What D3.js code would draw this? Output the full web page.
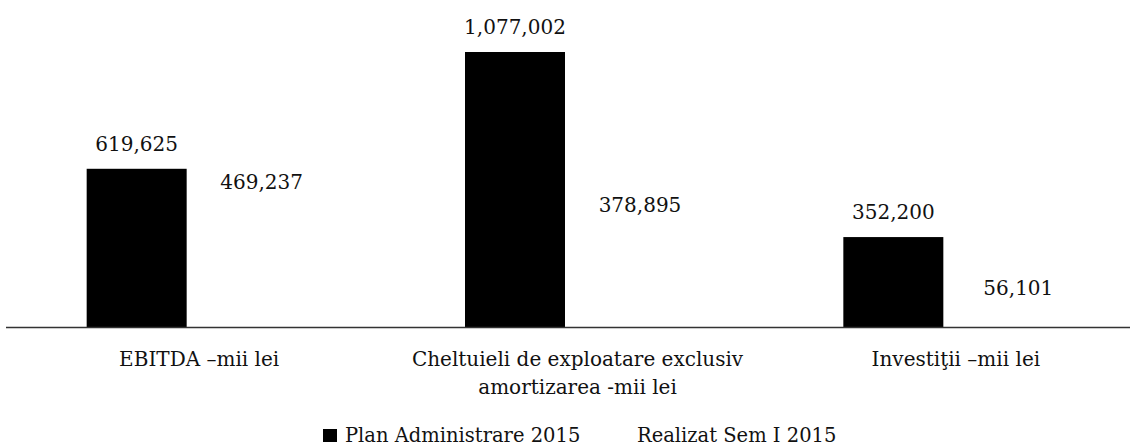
<!DOCTYPE html>
<html>
<head>
<meta charset="utf-8">
<script src="https://cdn.jsdelivr.net/npm/d3@7"></script>
<style>
  html, body { margin: 0; padding: 0; background: #fff; }
  svg { display: block; }
  text { font-family: "DejaVu Serif", "Liberation Serif", serif; fill: #111; }
</style>
</head>
<body>
<svg id="chart" width="1135" height="447"></svg>
<script>
const categories = [
  ["EBITDA \u2013mii lei"],
  ["Cheltuieli de exploatare exclusiv", "amortizarea -mii lei"],
  ["Investi\u0163ii \u2013mii lei"]
];
const categoryKeys = ["EBITDA", "Cheltuieli", "Investitii"];
const seriesNames = ["Plan Administrare 2015", "Realizat Sem I 2015"];
const planValues = [619625, 1077002, 352200];
const realizatValues = [469237, 378895, 56101];
const seriesColors = ["#000000", "#ffffff"];

const svg = d3.select("#chart");
const baseY = 327;

const x0 = d3.scaleBand().domain(categoryKeys).range([10, 1145]).padding(0);
const x1 = d3.scaleBand().domain(seriesNames).range([-112.5, 112.5]).paddingInner(0.2);
const y = d3.scaleLinear().domain([0, 1077002]).range([baseY, 52]);

const fmt = d3.format(",");
const seriesValues = [planValues, realizatValues];

const groups = svg.selectAll("g.cat").data(categoryKeys).join("g")
  .attr("class", "cat")
  .attr("transform", d => `translate(${x0(d) + x0.bandwidth() / 2},0)`);

groups.each(function(cat, i) {
  const g = d3.select(this);
  seriesNames.forEach((s, j) => {
    const v = seriesValues[j][i];
    g.append("rect")
      .attr("x", x1(s))
      .attr("y", y(v))
      .attr("width", x1.bandwidth())
      .attr("height", baseY - y(v))
      .attr("fill", seriesColors[j]);
    g.append("text")
      .attr("x", x1(s) + x1.bandwidth() / 2)
      .attr("y", y(v) - 18)
      .attr("text-anchor", "middle")
      .style("font-size", "20px")
      .text(fmt(v));
  });
  const t = g.append("text")
    .attr("text-anchor", "middle")
    .attr("y", 366)
    .style("font-size", "20px");
  categories[i].forEach((line, k) => {
    t.append("tspan").attr("x", 0).attr("y", 366 + k * 28).text(line);
  });
});

// axis baseline
svg.append("line")
  .attr("x1", 6).attr("x2", 1130)
  .attr("y1", baseY + 0.5).attr("y2", baseY + 0.5)
  .attr("stroke", "#333").attr("stroke-width", 1.5);

// legend
const legendX = [323, 615];
seriesNames.forEach((s, j) => {
  svg.append("rect")
    .attr("x", legendX[j]).attr("y", 429)
    .attr("width", 14).attr("height", 13)
    .attr("fill", seriesColors[j]);
  svg.append("text")
    .attr("x", legendX[j] + 22).attr("y", 442)
    .style("font-size", "19.5px")
    .text(s);
});
</script>
</body>
</html>
